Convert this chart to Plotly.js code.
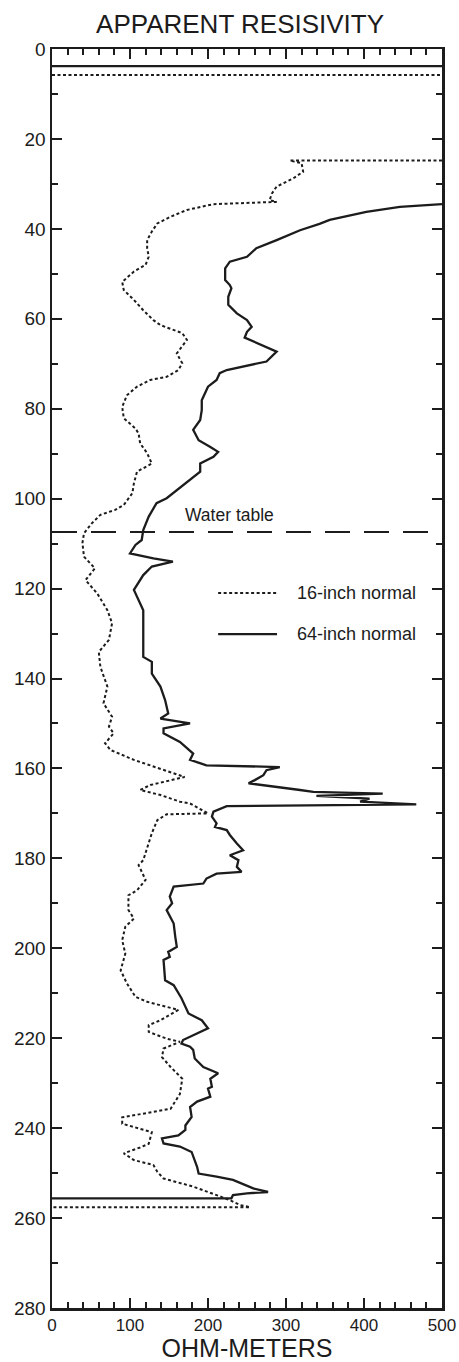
<!DOCTYPE html>
<html>
<head>
<meta charset="utf-8">
<script src="https://cdn.plot.ly/plotly-3.0.1.min.js"></script>
<style>html,body{margin:0;padding:0;background:#fff;}#chart{width:459px;height:1362px;}</style>
</head>
<body>
<div id="chart"></div>
<script>
// Depth (feet) and apparent resistivity (ohm-meters)
const depth64 = [
  3.8, 3.8, null, 34.5, 35.1, 36.2, 38.0, 38.9, 40.3, 42.5,
  44.3, 46.2, 47.3, 48.8, 51.4, 52.5, 53.2, 55.1, 56.9, 58.8,
  60.3, 61.8, 62.9, 64.2, 67.3, 69.5, 71.4, 72.1, 73.6, 75.1,
  78.1, 80.3, 82.5, 84.7, 87.0, 88.5, 89.6, 90.7, 92.2, 94.0,
  96.6, 99.9, 101.0, 104.0, 107.0, 109.2, 110.3, 112.2, 113.3, 114.0,
  115.1, 117.0, 120.3, 121.8, 124.8, 130.7, 135.2, 136.3, 138.9, 141.8,
  144.8, 147.8, 148.9, 150.0, 151.1, 152.2, 154.1, 156.7, 158.1, 159.3,
  159.7, 160.4, 161.5, 162.6, 163.3, 164.8, 165.2, 165.6, 166.1, 166.7,
  167.4, 168.0, 168.4, 169.6, 170.7, 172.2, 173.0, 173.7, 174.8, 176.7,
  178.2, 179.3, 180.4, 181.9, 183.0, 183.4, 184.5, 185.6, 186.3, 188.5,
  190.0, 191.5, 194.5, 197.4, 199.7, 200.8, 201.9, 202.6, 207.1, 208.2,
  211.1, 214.5, 216.0, 217.8, 219.3, 220.4, 221.2, 221.9, 222.6, 224.5,
  226.4, 227.8, 229.0, 230.8, 231.2, 233.0, 234.1, 235.3, 237.5, 239.4,
  240.4, 241.6, 242.3, 243.4, 244.1, 245.3, 248.6, 250.1, 250.8, 251.5,
  253.4, 254.2, 254.5, 254.9, 255.6, 255.6
];
const res64 = [
  0, 500, null, 500, 446, 403, 356, 343, 318, 288,
  262, 250, 228, 222, 222, 228, 230, 226, 226, 237,
  250, 256, 250, 247, 288, 275, 224, 215, 211, 200,
  192, 192, 190, 181, 188, 203, 213, 207, 190, 190,
  171, 147, 134, 124, 117, 115, 107, 100, 130, 155,
  128, 117, 105, 109, 117, 117, 117, 128, 128, 139,
  145, 149, 139, 177, 143, 143, 164, 181, 177, 198,
  292, 275, 271, 260, 252, 318, 335, 424, 339, 407,
  395, 467, 224, 207, 205, 211, 209, 224, 228, 237,
  245, 228, 239, 237, 243, 211, 198, 194, 156, 151,
  154, 147, 156, 158, 160, 149, 151, 143, 145, 156,
  166, 175, 192, 200, 181, 168, 166, 177, 181, 183,
  194, 213, 203, 205, 200, 203, 186, 177, 179, 171,
  171, 162, 141, 143, 164, 179, 186, 188, 211, 232,
  258, 277, 250, 232, 230, 0
];
const depth16 = [
  5.8, 5.8, null, 24.8, 24.8, 25.4, 27.3, 28.8, 30.6, 32.1,
  33.6, 34.0, 34.2, 34.5, 35.8, 37.3, 38.8, 40.6, 42.5, 44.3,
  46.2, 48.0, 49.5, 51.8, 53.6, 55.8, 58.1, 60.3, 61.4, 62.5,
  63.2, 64.7, 66.6, 67.7, 69.9, 71.4, 72.9, 73.6, 75.1, 77.0,
  79.6, 82.1, 84.4, 85.5, 87.7, 89.9, 92.2, 94.0, 96.6, 98.8,
  101.4, 102.5, 103.6, 105.5, 107.7, 109.9, 112.9, 115.5, 118.1, 121.1,
  124.8, 127.7, 131.4, 134.1, 137.4, 141.8, 145.5, 148.5, 150.7, 152.2,
  154.4, 155.9, 158.1, 160.0, 161.9, 163.7, 164.8, 165.9, 167.4, 167.8,
  170.0, 170.2, 171.5, 174.4, 177.4, 180.4, 181.5, 184.8, 187.1, 188.2,
  191.5, 193.4, 195.2, 198.2, 201.2, 204.9, 207.8, 210.8, 211.9, 213.0,
  213.7, 216.0, 217.1, 218.6, 220.1, 220.8, 222.3, 224.2, 226.4, 229.0,
  232.4, 235.7, 236.8, 237.6, 239.0, 239.8, 240.9, 243.5, 244.3, 245.6,
  247.1, 248.2, 249.7, 251.2, 253.0, 254.9, 256.0, 257.1, 257.6, 257.6
];
const res16 = [
  0, 500, null, 500, 305, 320, 322, 309, 288, 282,
  279, 288, 258, 207, 173, 152, 135, 128, 122, 122,
  124, 120, 105, 90, 92, 105, 117, 130, 139, 156,
  167, 173, 164, 160, 167, 162, 147, 126, 109, 96,
  90, 92, 107, 111, 113, 122, 128, 109, 105, 103,
  92, 81, 62, 51, 41, 39, 41, 55, 43, 58,
  71, 77, 73, 60, 62, 71, 66, 77, 73, 79,
  68, 75, 105, 139, 170, 126, 113, 139, 164, 177,
  200, 147, 135, 128, 122, 117, 111, 120, 109, 98,
  98, 105, 94, 90, 94, 88, 96, 107, 122, 147,
  162, 139, 124, 124, 147, 164, 143, 141, 152, 167,
  164, 152, 113, 90, 90, 105, 128, 124, 113, 92,
  105, 130, 135, 143, 181, 211, 228, 241, 254, 0
];
const waterTableDepth = 107.4;
const waterTableLabel = "Water table";
const seriesNames = ["16-inch normal", "64-inch normal"];
const chartTitle = "APPARENT RESISIVITY";
const xAxisTitle = "OHM-METERS";

const ink = "#1c1c1c";
const font = "Liberation Sans, Arial, Helvetica, sans-serif";

const traces = [
  {x: res16, y: depth16, type: "scatter", mode: "lines", name: seriesNames[0],
   connectgaps: false, line: {color: ink, width: 2, dash: "3px,2.5px"}},
  {x: res64, y: depth64, type: "scatter", mode: "lines", name: seriesNames[1],
   connectgaps: false, line: {color: ink, width: 2.3}},
  {x: [0, 500], y: [waterTableDepth, waterTableDepth], type: "scatter", mode: "lines",
   name: waterTableLabel, line: {color: ink, width: 2, dash: "25px,14px"}}
];

const axisCommon = {
  showgrid: false, zeroline: false, showline: true, linecolor: ink, linewidth: 2.5,
  mirror: "ticks", ticks: "inside", tickcolor: ink, tickwidth: 2,
  tickfont: {family: font, color: ink}
};

const layout = {
  width: 459, height: 1362,
  margin: {l: 52, r: 17, t: 49, b: 54},
  paper_bgcolor: "#fff", plot_bgcolor: "#fff",
  showlegend: false,
  title: {text: chartTitle, font: {family: font, size: 26, color: ink},
          xref: "container", x: 0.523, xanchor: "center", yref: "container", y: 0.9824, yanchor: "middle"},
  xaxis: Object.assign({}, axisCommon, {
    range: [0, 500], dtick: 100, tick0: 0, ticklen: 10,
    tickfont: {family: font, size: 17, color: ink},
    minor: {dtick: 20, ticklen: 6, ticks: "inside", tickcolor: ink, tickwidth: 2},
    title: {text: xAxisTitle, font: {family: font, size: 25, color: ink}, standoff: 7}
  }),
  yaxis: Object.assign({}, axisCommon, {
    range: [280, 0], dtick: 20, tick0: 0, ticklen: 10,
    tickfont: {family: font, size: 19, color: ink},
    minor: {dtick: 10, ticklen: 6, ticks: "inside", tickcolor: ink, tickwidth: 2}
  }),
  shapes: [
    {type: "line", xref: "paper", yref: "paper", x0: 0.426, x1: 0.577, y0: 0.5679, y1: 0.5679,
     line: {color: ink, width: 2, dash: "3px,2.5px"}},
    {type: "line", xref: "paper", yref: "paper", x0: 0.426, x1: 0.577, y0: 0.5353, y1: 0.5353,
     line: {color: ink, width: 2.3}}
  ],
  annotations: [
    {text: seriesNames[0], xref: "paper", yref: "paper", x: 0.6236, y: 0.5679, xanchor: "left", yanchor: "middle",
     showarrow: false, font: {family: font, size: 18, color: ink}},
    {text: seriesNames[1], xref: "paper", yref: "paper", x: 0.6236, y: 0.5353, xanchor: "left", yanchor: "middle",
     showarrow: false, font: {family: font, size: 18, color: ink}},
    {text: waterTableLabel, xref: "x", yref: "y", x: 227.6, y: 103.6, xanchor: "center", yanchor: "middle",
     showarrow: false, font: {family: font, size: 17.5, color: ink}}
  ]
};

Plotly.newPlot("chart", traces, layout, {displayModeBar: false, staticPlot: true});
</script>
</body>
</html>
